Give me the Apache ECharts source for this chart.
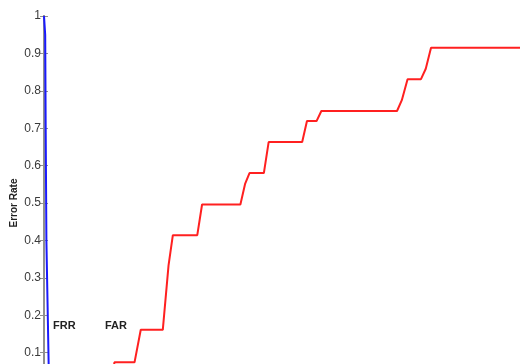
<!DOCTYPE html>
<html>
<head>
<meta charset="utf-8">
<script src="https://cdn.jsdelivr.net/npm/echarts@6/dist/echarts.min.js"></script>
<style>html,body{margin:0;padding:0;background:#fff;}#c{width:520px;height:364px;}</style>
</head>
<body>
<div id="c"></div>
<script>
// FRR curve (blue): [threshold, error rate]
var frrX = [0, 0.025, 0.035, 0.05, 0.083, 0.1, 0.11];
var frrY = [1.0, 0.95, 0.7, 0.4, 0.17, 0.05, 0.0];
// FAR curve (red): [threshold, error rate]
var farX = [1.40, 1.47, 1.89, 2.02, 2.48, 2.60, 2.69, 3.20, 3.30, 4.10, 4.20, 4.29, 4.59, 4.69, 5.39, 5.49, 5.69, 5.79, 7.37, 7.47, 7.59, 7.87, 7.97, 8.08, 10];
var farY = [0.0, 0.074, 0.074, 0.161, 0.161, 0.333, 0.414, 0.414, 0.496, 0.496, 0.552, 0.580, 0.580, 0.663, 0.663, 0.719, 0.719, 0.746, 0.746, 0.775, 0.831, 0.831, 0.859, 0.915, 0.915];
var yTicks = [0, 0.1, 0.2, 0.3, 0.4, 0.5, 0.6, 0.7, 0.8, 0.9, 1];
var seriesNames = ['FRR', 'FAR'];
var yLabel = 'Error Rate';

function zip(a, b) { return a.map(function (v, i) { return [v, b[i]]; }); }

var chart = echarts.init(document.getElementById('c'));
var axisGray = '#8f8f8f';
var xCommon = {
  type: 'value', min: 0, max: 10, interval: 1,
  axisLine: { show: true, lineStyle: { color: axisGray, width: 2 } },
  axisTick: { show: true, inside: true, length: 4, lineStyle: { color: axisGray } },
  axisLabel: { show: false }, splitLine: { show: false }
};
chart.setOption({
  animation: false,
  grid: { left: 44, top: 16, width: 479, height: 374, outerBoundsMode: 'none', containLabel: false },
  xAxis: [
    Object.assign({ position: 'top' }, xCommon),
    Object.assign({ position: 'bottom' }, xCommon)
  ],
  yAxis: [
    {
      type: 'value', min: 0, max: 1, interval: 0.1, position: 'left',
      name: yLabel, nameLocation: 'middle', nameGap: 25, nameMoveOverlap: false,
      nameTextStyle: { fontFamily: 'Liberation Sans', fontWeight: 'bold', fontSize: 10, color: '#222' },
      axisLine: { show: true, lineStyle: { color: axisGray, width: 2 } },
      axisTick: { show: true, inside: true, length: 4, lineStyle: { color: axisGray } },
      axisLabel: {
        margin: 3, fontFamily: 'Liberation Sans', fontSize: 12, color: '#3a3a3a',
        formatter: function (v) { return v === 1 ? '1' : (v === 0 ? '0' : v.toFixed(1)); }
      },
      splitLine: { show: false }
    },
    {
      type: 'value', min: 0, max: 1, interval: 0.1, position: 'right',
      axisLine: { show: true, lineStyle: { color: axisGray, width: 2 } },
      axisTick: { show: true, inside: true, length: 4, lineStyle: { color: axisGray } },
      axisLabel: { show: false }, splitLine: { show: false }
    }
  ],
  series: [
    { name: seriesNames[0], type: 'line', data: zip(frrX, frrY), showSymbol: false,
      lineStyle: { color: '#1a1aff', width: 2 }, z: 1 },
    { name: seriesNames[1], type: 'line', data: zip(farX, farY), showSymbol: false,
      lineStyle: { color: '#ff2020', width: 2 }, z: 1 }
  ],
  graphic: [
    { type: 'text', left: 53, top: 320, style: { text: seriesNames[0], font: 'bold 11px "Liberation Sans"', fill: '#222' } },
    { type: 'text', left: 105, top: 320, style: { text: seriesNames[1], font: 'bold 11px "Liberation Sans"', fill: '#222' } }
  ]
});
</script>
</body>
</html>
